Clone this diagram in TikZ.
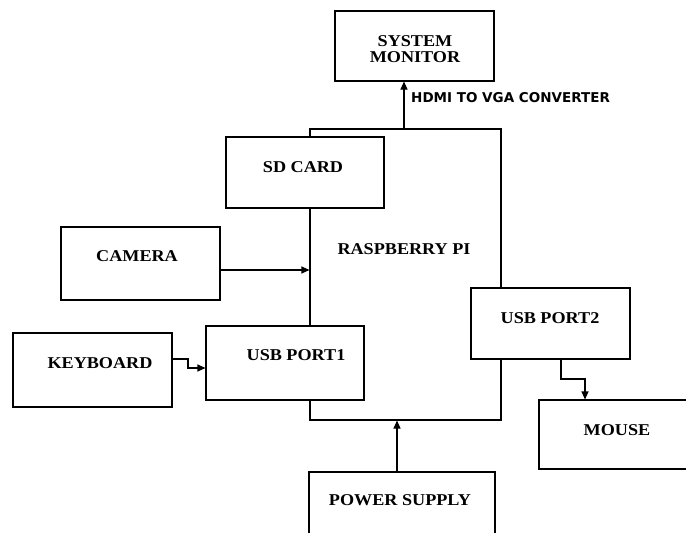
\documentclass[tikz,border=0pt]{standalone}
\usepackage{fontspec}
\setmainfont{Liberation Serif}
\newfontfamily\hdmifont{DejaVu Sans}
\usetikzlibrary{arrows.meta}
\tikzset{
  blk/.style={draw, line width=1.1pt, fill=white, inner sep=0pt},
  lbl/.style={font=\fontsize{16.5}{16}\selectfont\bfseries, align=center, inner sep=0pt, xscale=1.1},
  arr/.style={line width=1.1pt, -{Triangle[length=8pt,width=7pt]}},
  lnk/.style={line width=1.1pt}
}
\begin{document}
\begin{tikzpicture}[x=1pt,y=-1pt]
\path[clip] (0,0) rectangle (686,533);
\useasboundingbox (0,0) rectangle (686,533);
% boxes
\node[blk, minimum width=191pt, minimum height=291pt] (rpi) at (405.5,274.5) {};
\node[blk, minimum width=159pt, minimum height=70pt] (mon) at (414.5,46) {};
\node[blk, minimum width=158pt, minimum height=71pt] (sd) at (305,172.5) {};
\node[blk, minimum width=159pt, minimum height=73pt] (cam) at (140.5,263.5) {};
\node[blk, minimum width=159pt, minimum height=74pt] (kb) at (92.5,370) {};
\node[blk, minimum width=158pt, minimum height=74pt] (usb1) at (285,363) {};
\node[blk, minimum width=159pt, minimum height=71pt] (usb2) at (550.5,323.5) {};
\node[blk, minimum width=161pt, minimum height=69pt] (mouse) at (619.5,434.5) {};
\node[blk, minimum width=186pt, minimum height=80pt] (pwr) at (402,512) {};
% texts
\node[lbl] (monT) at (415,49.5) {SYSTEM\\MONITOR};
\node[lbl] (rpiT) at (404,249) {RASPBERRY PI};
\node[lbl] (sdT) at (303,167) {SD CARD};
\node[lbl] (camT) at (137,256) {CAMERA};
\node[lbl] (kbT) at (100,363) {KEYBOARD};
\node[lbl] (usb1T) at (296,355) {USB PORT1};
\node[lbl] (usb2T) at (550,318) {USB PORT2};
\node[lbl] (mouseT) at (617,430) {MOUSE};
\node[lbl] (pwrT) at (400,500) {POWER SUPPLY};
% connectors
\draw[arr] ([xshift=-1.5pt]rpi.north) -- ([xshift=-1.5pt]rpi.north |- mon.south);
\node[anchor=west, inner sep=0pt, font=\hdmifont\fontsize{13.5}{13}\selectfont\bfseries] (hdmi) at (411,98) {HDMI TO VGA CONVERTER};
\draw[arr] (cam.east |- 0,270) -- (rpi.west |- 0,270);
\coordinate (kbA) at (188,359);
\coordinate (kbB) at (188,368);
\draw[arr] (kb.east |- kbA) -- (kbA) -- (kbB) -- (usb1.west |- kbB);
\coordinate (msA) at (561,379);
\coordinate (msB) at (585,379);
\draw[arr] (usb2.south -| msA) -- (msA) -- (msB) -- (mouse.north -| msB);
\draw[arr] (pwr.north -| 397,0) -- (rpi.south -| 397,0);
\end{tikzpicture}
\end{document}
